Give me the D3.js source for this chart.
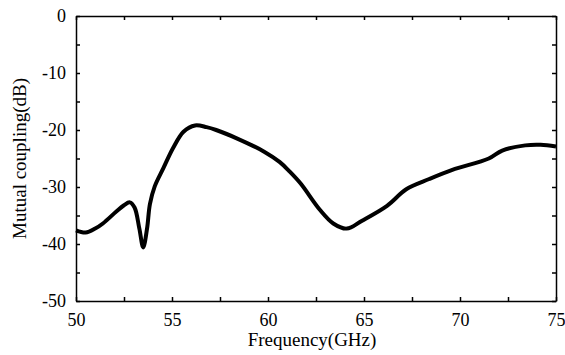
<!DOCTYPE html>
<html>
<head>
<meta charset="utf-8">
<script src="https://cdn.jsdelivr.net/npm/d3@7"></script>
<style>
  body { margin: 0; background: #fff; }
  svg { display: block; font-family: "Liberation Serif", "Times New Roman", serif; }
</style>
</head>
<body>
<div id="chart"></div>
<script>
// frequency (GHz) and mutual coupling (dB)
const freq = [50.0, 50.5, 51.0, 51.4, 52.1, 52.5, 52.8, 53.05, 53.3, 53.5, 53.7, 53.85, 54.1, 54.55, 55.05, 55.6, 56.2, 56.8, 57.3, 58.4, 59.8, 60.6, 61.1, 61.7, 62.7, 63.4, 64.1, 64.9, 66.2, 67.2, 68.4, 69.6, 71.5, 72.2, 73.4, 74.2, 75.0];
const coupling = [-37.6, -38.0, -37.3, -36.4, -34.3, -33.2, -32.7, -33.6, -37.3, -40.6, -37.3, -33.0, -29.9, -26.7, -23.2, -20.3, -19.2, -19.5, -20.0, -21.5, -23.8, -25.6, -27.2, -29.4, -34.0, -36.4, -37.3, -35.9, -33.3, -30.4, -28.6, -27.0, -25.0, -23.6, -22.7, -22.6, -22.9];

const xTicks = [50, 55, 60, 65, 70, 75];
const yTicks = [0, -10, -20, -30, -40, -50];
const xLabel = "Frequency(GHz)";
const yLabel = "Mutual coupling(dB)";

const width = 565, height = 355;
const margin = { top: 16, right: 9, bottom: 54, left: 76 };

const svg = d3.select('#chart').append('svg')
    .attr('width', width)
    .attr('height', height);

const x = d3.scaleLinear().domain([50, 75]).range([margin.left, width - margin.right]);
const y = d3.scaleLinear().domain([-50, 0]).range([height - margin.bottom, margin.top]);

const xMinor = d3.range(50, 75.01, 2.5);
const yMinor = d3.range(-50, 0.01, 5);

// inward ticks on all four sides
function styleAxis(g) {
    g.select('.domain').attr('stroke', '#000').attr('stroke-width', 1.5);
    g.selectAll('.tick line').attr('stroke', '#000').attr('stroke-width', 1.5);
    g.selectAll('text').attr('fill', '#000').attr('font-size', 18)
        .attr('font-family', '"Liberation Serif", "Times New Roman", serif');
}

svg.append('g')
    .attr('transform', `translate(0,${y(-50)})`)
    .call(d3.axisBottom(x).tickValues(xMinor).tickSizeInner(-4).tickSizeOuter(0).tickPadding(12)
        .tickFormat(d => xTicks.includes(d) ? d : ''))
    .call(styleAxis);

svg.append('g')
    .attr('transform', `translate(0,${y(0)})`)
    .call(d3.axisTop(x).tickValues(xMinor).tickSizeInner(-4).tickSizeOuter(0).tickFormat(''))
    .call(styleAxis);

svg.append('g')
    .attr('transform', `translate(${x(50)},0)`)
    .call(d3.axisLeft(y).tickValues(yMinor).tickSizeInner(-4).tickSizeOuter(0).tickPadding(10)
        .tickFormat(d => yTicks.includes(d) ? d : ''))
    .call(styleAxis);

svg.append('g')
    .attr('transform', `translate(${x(75)},0)`)
    .call(d3.axisRight(y).tickValues(yMinor).tickSizeInner(-4).tickSizeOuter(0).tickFormat(''))
    .call(styleAxis);

// use a real minus-less hyphen like the original
svg.selectAll('.tick text').text(function () { return this.textContent.replace('\u2212', '-'); });

const line = d3.line()
    .x((d, i) => x(freq[i]))
    .y(d => y(d))
    .curve(d3.curveCatmullRom.alpha(0.5));

svg.append('path')
    .datum(coupling)
    .attr('fill', 'none')
    .attr('stroke', '#000')
    .attr('stroke-width', 4)
    .attr('stroke-linejoin', 'round')
    .attr('d', line);

svg.append('text')
    .attr('x', 312)
    .attr('y', 346)
    .attr('text-anchor', 'middle')
    .attr('font-size', 19)
    .text(xLabel);

svg.append('text')
    .attr('transform', `translate(26,${(y(0) + y(-50)) / 2}) rotate(-90)`)
    .attr('text-anchor', 'middle')
    .attr('font-size', 19)
    .text(yLabel);
</script>
</body>
</html>
